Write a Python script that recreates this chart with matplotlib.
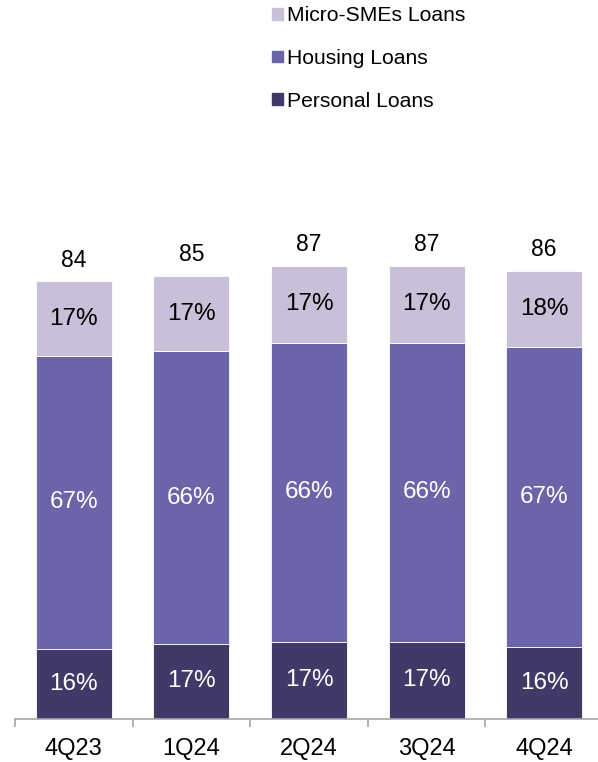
import numpy as np
import matplotlib
matplotlib.use("Agg")
import matplotlib.pyplot as plt
from matplotlib.patches import Patch

plt.rcParams['font.family'] = ['Liberation Sans', 'DejaVu Sans']

# data
quarters = ["4Q23", "1Q24", "2Q24", "3Q24", "4Q24"]
totals = [84, 85, 87, 87, 86]
personal_pct = [16, 17, 17, 17, 16]
housing_pct = [67, 66, 66, 66, 67]
micro_pct = [17, 17, 17, 17, 18]

c_personal = "#413a68"
c_housing = "#6c64a8"
c_micro = "#c8c0d8"

W, H = 598, 762
fig = plt.figure(figsize=(W / 100, H / 100), dpi=100)
# axes in pixel terms: baseline at y=719, x from 15 to ~603
ax = fig.add_axes([15 / W, (H - 719) / H, 588 / W, 521 / H])

x = np.arange(len(quarters))
tot = np.array(totals, dtype=float)
pers = tot * np.array(personal_pct) / 100.0
hous = tot * np.array(housing_pct) / 100.0
micro = tot - pers - hous

bw = 0.646
ax.bar(x, pers, bw, color=c_personal, edgecolor="white", linewidth=0.6)
ax.bar(x, hous, bw, bottom=pers, color=c_housing, edgecolor="white", linewidth=0.6)
ax.bar(x, micro, bw, bottom=pers + hous, color=c_micro, edgecolor="white", linewidth=0.6)

for i in range(len(quarters)):
    ax.text(x[i], pers[i] / 2, "%d%%" % personal_pct[i], ha="center", va="center",
            color="white", fontsize=17.5)
    ax.text(x[i], pers[i] + hous[i] / 2, "%d%%" % housing_pct[i], ha="center", va="center",
            color="white", fontsize=17.5)
    ax.text(x[i], pers[i] + hous[i] + micro[i] / 2, "%d%%" % micro_pct[i], ha="center",
            va="center", color="black", fontsize=17.5)
    ax.annotate(str(totals[i]), (x[i], tot[i]), xytext=(0, 7), textcoords="offset points",
                ha="center", va="bottom", fontsize=16.5, color="black")

ax.set_xlim(-0.5, 4.5)
ax.set_ylim(0, 100)
for s in ["top", "right", "left"]:
    ax.spines[s].set_visible(False)
ax.spines["bottom"].set_color("#a6a6a6")
ax.spines["bottom"].set_linewidth(1.2)
ax.set_yticks([])
ax.set_xticks(x)
ax.set_xticklabels(quarters, fontsize=17)
ax.tick_params(axis="x", which="major", length=0, pad=14)
ax.set_xticks(np.arange(-0.5, 5, 1.0), minor=True)
ax.tick_params(axis="x", which="minor", length=6, width=1.2, color="#a6a6a6")

# legend, top row first
handles = [Patch(color=c_micro), Patch(color=c_housing), Patch(color=c_personal)]
labels = ["Micro-SMEs Loans", "Housing Loans", "Personal Loans"]
fig.legend(handles, labels, loc="upper left", bbox_to_anchor=(264 / W, 1 + 2 / H),
           frameon=False, fontsize=15.2, handlelength=0.48, handleheight=0.48,
           handletextpad=0.2, labelspacing=1.12, borderaxespad=0)

fig.savefig("out.png", dpi=100)
